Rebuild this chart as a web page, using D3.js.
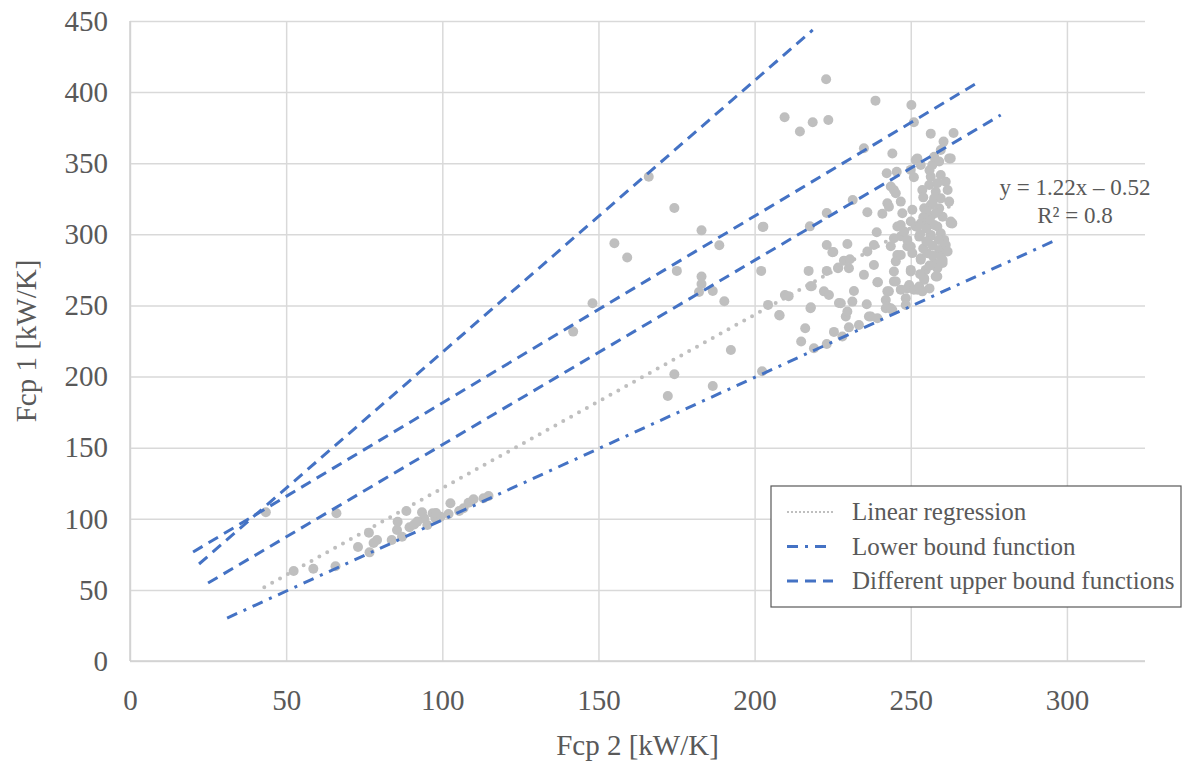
<!DOCTYPE html>
<html>
<head>
<meta charset="utf-8">
<script src="https://cdn.jsdelivr.net/npm/d3@7"></script>
<style>
  body { margin: 0; background: #fff; }
  svg text { font-family: "Liberation Serif", "Times New Roman", serif !important; fill: #595959; }
  .grid line { stroke: #d9d9d9; stroke-width: 1.5; }
  .grid path { display: none; }
</style>
</head>
<body>
<svg id="chart" width="1185" height="765"></svg>
<script>
// axis ticks
var xTicks = [0, 50, 100, 150, 200, 250, 300];
var yTicks = [0, 50, 100, 150, 200, 250, 300, 350, 400, 450];

// measured points [Fcp 2, Fcp 1]
var lowCluster = [
  [43.5, 104.6], [66.1, 103.9], [52.4, 63.3], [58.7, 64.9], [65.8, 66.6],
  [73, 80.2], [76.5, 90.2], [76.7, 76.4], [79.1, 85.1], [78, 83],
  [83.8, 85.1], [85.5, 92.1], [85.7, 97.9], [88.5, 105.5], [87.1, 87.4],
  [89.5, 94], [91, 96], [93.5, 104.6], [94.2, 100.3], [96.9, 103.9],
  [95.2, 95.6], [97.8, 100.3], [99.4, 101.5], [102, 103.4], [102.6, 110.9],
  [105.4, 105.5], [106.8, 107.4], [108.4, 111.3], [110, 113.7], [113.2, 114.4],
  [114.8, 116], [92, 98], [98, 104]
];

var midPoints = [
  [141.9, 231.6], [148.1, 251.5], [155.1, 293.7], [159.2, 283.7], [166.1, 340.5],
  [172.2, 186.3], [174.3, 318.5], [174.3, 201.6], [175.1, 274.3], [183, 302.8],
  [183, 270.3], [183, 265.1], [182.2, 259.5], [186.6, 260.2], [186.6, 193.4],
  [188.7, 292.3], [190.3, 253], [192.4, 218.7], [202.1, 274.3], [202.4, 203.7],
  [202.6, 305.2], [202.8, 305.4], [204.3, 250.4], [207.9, 243.3], [208, 242.9],
  [209.6, 382.3], [209.7, 257.4], [210.9, 256.5], [214.5, 372.3], [214.9, 224.6],
  [216.2, 234], [217.3, 274.3], [217.7, 305.6], [217.9, 263.5], [217.9, 248],
  [218, 248.7], [218.3, 263.5], [218.6, 378.8], [219, 219.9], [222.2, 259.9],
  [222.9, 409], [223.1, 315], [223.1, 292.5], [223.1, 274.3], [223.1, 222.9],
  [223.6, 380.4], [223.8, 257.4], [224.9, 287.4], [225.2, 287.6], [225.4, 231.4],
  [226.7, 276.2], [226.8, 276.7], [227, 251.7], [227.6, 251.5], [228.1, 228.2],
  [228.6, 281.5], [229.2, 242.2], [229.7, 293.2], [229.7, 245.7], [230.2, 276.2],
  [230.2, 234.6], [230.5, 282.5], [231.3, 252.7], [231.4, 324.2], [231.8, 260.2],
  [233.4, 236.3], [235, 360.5], [235, 271.5], [235.9, 250.9], [236.1, 315.5],
  [236.1, 287.9], [236.6, 242.2], [237.2, 242.2], [238.2, 292.5], [238.2, 278.5],
  [238.7, 394], [239.1, 301.5], [239.3, 241], [239.3, 266.3], [239.5, 266.3]
];

var highCluster = [
  [240.9, 314.5], [242, 253.8], [242, 248], [242.3, 342.9], [242.5, 249.1],
  [242.5, 259.9], [242.5, 321.8], [243, 319.4], [243, 259.9], [243.6, 333.6],
  [243.6, 291.6], [243.6, 248], [244.1, 356.8], [244.1, 246.8], [244.6, 297.3],
  [244.6, 273.9], [244.6, 266.9], [244.6, 331.2], [245.2, 328.9], [245.2, 281],
  [245.2, 266.9], [245.5, 344], [245.7, 285.5], [245.7, 305.5], [246.8, 323],
  [246.8, 298.6], [246.8, 285.5], [246.8, 261.1], [246.8, 306.6], [247.3, 314.8],
  [247.9, 302], [248.4, 255], [248.4, 250.3], [248.9, 291.6], [248.9, 296.1],
  [248.9, 262], [249.5, 264.4], [250, 345.3], [250, 309], [250, 291.5],
  [250, 275], [250, 273.9], [250.2, 391], [250.5, 317.3], [250.5, 286.8],
  [251, 378.8], [251, 340.1], [251, 261.1], [251.6, 352.3], [251.6, 305.5],
  [252.1, 353.4], [252.1, 305.4], [252.1, 261.1], [252.7, 298.4], [252.7, 263.3],
  [253.2, 348.8], [253.2, 307.8], [253.2, 283.1], [253.2, 282.2], [253.7, 331.2],
  [253.7, 259.9], [254.3, 318.3], [254.3, 268], [254.3, 269.1], [254.8, 275],
  [255.3, 286.7], [255.3, 307.8], [255.9, 334.7], [256.4, 370.8], [256.4, 340.5],
  [256.4, 320.6], [256.4, 312.4], [256.4, 298.6], [256.4, 299.6], [256.9, 348.8],
  [257.5, 354.6], [257.5, 325.3], [257.5, 306.6], [257.5, 279.7], [258, 330],
  [258, 270.3], [258.5, 335.9], [258.5, 305.5], [258.5, 276.2], [258.5, 270.3],
  [259.1, 351.2], [259.1, 318.3], [259.1, 289], [259.6, 359.3], [259.6, 341.7],
  [259.6, 325.3], [259.6, 300.7], [259.6, 284.5], [260.2, 312.4], [260.2, 282],
  [260.2, 279.8], [260.5, 365.2], [260.7, 293.7], [260.7, 296.1], [261.2, 337],
  [261.2, 289], [261.2, 292.5], [261.8, 331.2], [261.8, 287.9], [262.3, 353.4],
  [262.3, 323], [262.8, 353.4], [262.8, 309], [262.8, 307.8], [263.3, 307.7],
  [263.7, 371.3], [254, 290], [255, 295], [257, 285], [256, 278], [253, 300],
  [255, 316], [257, 322], [254, 326], [256, 345], [254, 312], [258, 315],
  [257, 292], [259, 296], [255, 304], [256, 262], [253, 272]
];

// fitted and bound lines: [x1, y1, x2, y2]
var regression = { slope: 1.22, intercept: -0.52, xMin: 43, xMax: 263 };
var lowerBound = [31.1, 30.2, 296.5, 296];
var upperBounds = [
  [22.1, 68.2, 218.6, 443.7],
  [20.2, 76.6, 271.2, 406.4],
  [25, 54.8, 278.8, 383.9]
];

var legendItems = [
  { label: "Linear regression", kind: "reg" },
  { label: "Lower bound function", kind: "low" },
  { label: "Different upper bound functions", kind: "up" }
];

var BLUE = "#4472c4";
var GREY = "#bfbfbf";
var SERIF = "'Liberation Serif', 'Times New Roman', serif";
var dashUp = "11,7";
var dashLow = "11,7,3,7";

var margins = { top: 21, right: 40, bottom: 104, left: 130 };
var width = 1185, height = 765;
var chartWidth = width - margins.left - margins.right;
var chartHeight = height - margins.top - margins.bottom;

var svg = d3.select("#chart");
var chartElement = svg.append("g")
  .attr("transform", `translate(${margins.left},${margins.top})`);

var xScale = d3.scaleLinear().domain([0, 325]).range([0, chartWidth]);
var yScale = d3.scaleLinear().domain([0, 450]).range([chartHeight, 0]);

// grid
chartElement.append("g")
  .attr("class", "grid")
  .call(d3.axisLeft(yScale).tickValues(yTicks).tickSize(-chartWidth).tickFormat(""));
chartElement.append("g")
  .attr("class", "grid")
  .attr("transform", `translate(0,${chartHeight})`)
  .call(d3.axisBottom(xScale).tickValues(xTicks).tickSize(-chartHeight).tickFormat(""));

// axis lines
chartElement.append("line")
  .attr("x1", 0).attr("x2", chartWidth)
  .attr("y1", chartHeight).attr("y2", chartHeight)
  .attr("stroke", "#d0d0d0").attr("stroke-width", 1.5);
chartElement.append("line")
  .attr("x1", 0).attr("x2", 0)
  .attr("y1", 0).attr("y2", chartHeight)
  .attr("stroke", "#d0d0d0").attr("stroke-width", 1.5);

// tick labels
var xAxis = d3.axisBottom(xScale).tickValues(xTicks).tickSize(0).tickPadding(28);
var xg = chartElement.append("g")
  .attr("transform", `translate(0,${chartHeight})`)
  .attr("font-family", SERIF)
  .call(xAxis);
xg.attr("font-family", SERIF);
xg.select(".domain").remove();
xg.selectAll("text").attr("font-size", 29).attr("fill", "#595959")
  .style("font-family", SERIF);

var yAxis = d3.axisLeft(yScale).tickValues(yTicks).tickSize(0).tickPadding(22);
var yg = chartElement.append("g").call(yAxis);
yg.attr("font-family", SERIF);
yg.select(".domain").remove();
yg.selectAll("text").attr("font-size", 29).attr("fill", "#595959")
  .style("font-family", SERIF);

// axis titles
svg.append("text")
  .attr("x", margins.left + chartWidth / 2)
  .attr("y", 755)
  .attr("text-anchor", "middle")
  .attr("font-size", 29)
  .text("Fcp 2 [kW/K]");
svg.append("text")
  .attr("transform", `translate(36,${margins.top + chartHeight / 2}) rotate(-90)`)
  .attr("text-anchor", "middle")
  .attr("font-size", 29)
  .text("Fcp 1 [kW/K]");

// scatter
var allPoints = lowCluster.concat(midPoints, highCluster);
chartElement.append("g")
  .attr("class", "points")
  .selectAll("circle")
  .data(allPoints)
  .enter()
  .append("circle")
  .attr("cx", d => xScale(d[0]))
  .attr("cy", d => yScale(d[1]))
  .attr("r", 5)
  .attr("fill", GREY);

// regression line
var regLine = [regression.xMin, regression.xMax].map(x => [x, regression.slope * x + regression.intercept]);
chartElement.append("path")
  .attr("d", d3.line().x(d => xScale(d[0])).y(d => yScale(d[1]))(regLine))
  .attr("fill", "none")
  .attr("stroke", GREY)
  .attr("stroke-width", 4)
  .attr("stroke-linecap", "round")
  .attr("stroke-dasharray", "0,9");

// bounds
chartElement.append("line")
  .attr("x1", xScale(lowerBound[0])).attr("y1", yScale(lowerBound[1]))
  .attr("x2", xScale(lowerBound[2])).attr("y2", yScale(lowerBound[3]))
  .attr("stroke", BLUE).attr("stroke-width", 3)
  .attr("stroke-dasharray", dashLow);

chartElement.append("g")
  .selectAll("line")
  .data(upperBounds)
  .enter()
  .append("line")
  .attr("x1", d => xScale(d[0])).attr("y1", d => yScale(d[1]))
  .attr("x2", d => xScale(d[2])).attr("y2", d => yScale(d[3]))
  .attr("stroke", BLUE).attr("stroke-width", 3)
  .attr("stroke-dasharray", dashUp);

// equation
var eq = svg.append("text")
  .attr("text-anchor", "middle")
  .attr("font-size", 23);
eq.append("tspan").attr("x", 1075).attr("y", 195).text("y = 1.22x \u2013 0.52");
eq.append("tspan").attr("x", 1075).attr("y", 223).text("R\u00b2 = 0.8");

// legend
var legend = svg.append("g").attr("transform", "translate(771,486)");
legend.append("rect")
  .attr("width", 410).attr("height", 121)
  .attr("fill", "#fff")
  .attr("stroke", "#595959").attr("stroke-width", 1.2);

var rows = legend.selectAll("g.row")
  .data(legendItems)
  .enter()
  .append("g")
  .attr("class", "row")
  .attr("transform", (d, i) => `translate(0,${26 + i * 34.5})`);

rows.append("line")
  .attr("x1", 16).attr("x2", 62)
  .attr("y1", 0).attr("y2", 0)
  .attr("stroke", d => d.kind == "reg" ? GREY : BLUE)
  .attr("stroke-width", d => d.kind == "reg" ? 2 : 3)
  .attr("stroke-dasharray", d => d.kind == "reg" ? "2,2" : d.kind == "low" ? dashLow : dashUp);

rows.append("text")
  .attr("x", 81)
  .attr("y", 8)
  .attr("font-size", 25)
  .text(d => d.label);
</script>
</body>
</html>
